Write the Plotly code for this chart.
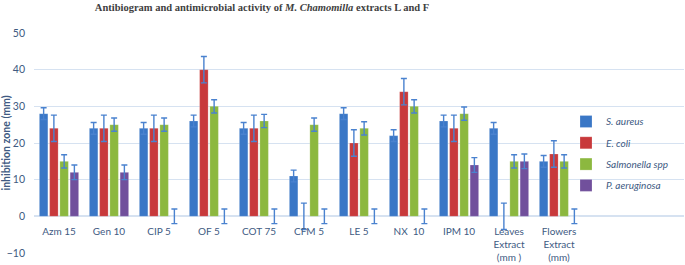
import plotly.graph_objects as go

categories = ["Azm 15", "Gen 10", "CIP 5", "OF 5", "COT 75", "CFM 5", "LE 5", "NX  10",
              "IPM 10", "Leaves<br>Extract<br>(mm )", "Flowers<br>Extract<br>(mm)"]
s_aureus = [28, 24, 24, 26, 24, 11, 28, 22, 26, 24, 15]
e_coli = [24, 24, 24, 40, 24, 0, 20, 34, 24, 0, 17]
salmonella = [15, 25, 25, 30, 26, 25, 24, 30, 28, 15, 15]
p_aeruginosa = [12, 12, 0, 0, 0, 0, 0, 0, 14, 15, 0]
err_s_aureus = 1.6
err_e_coli = 3.6
err_salmonella = 1.8
err_p_aeruginosa = 2.0

series = [
    ("S. aureus", s_aureus, err_s_aureus, "#3a77c6"),
    ("E. coli", e_coli, err_e_coli, "#c8393b"),
    ("Salmonella spp", salmonella, err_salmonella, "#8cb83f"),
    ("P. aeruginosa", p_aeruginosa, err_p_aeruginosa, "#71509c"),
]

txt = "#405a82"
fig = go.Figure()
for name, vals, err, col in series:
    fig.add_trace(go.Bar(
        x=categories, y=vals, name=name, legendgroup=name,
        marker=dict(color=col, line=dict(color="rgba(255,255,255,0.35)", width=0.6)),
        error_y=dict(type="constant", value=err, color="#4a82cf", thickness=1.4, width=3),
    ))

fig.update_layout(
    width=685, height=265,
    margin=dict(l=34, r=1, t=33, b=12, autoexpand=False),
    paper_bgcolor="white", plot_bgcolor="white",
    barmode="group", bargap=0.18, bargroupgap=0.17,
    font=dict(family="Lato", size=10.5, color=txt),
    title=dict(
        text="<b>Antibiogram and antimicrobial activity of <i>M. Chamomilla</i> extracts L and F</b>",
        font=dict(family="Liberation Serif", size=10.5, color="#404040"),
        x=262 / 685, xanchor="center", y=1 - 7 / 265, yanchor="middle",
    ),
    legend=dict(
        x=(566 - 34) / 650, y=(253 - 107) / 220, xanchor="left", yanchor="top",
        font=dict(family="Lato", size=10, color=txt, style="italic"),
        bgcolor="rgba(0,0,0,0)", itemwidth=30, tracegroupgap=2.3,
    ),
    showlegend=True,
)
fig.update_xaxes(
    range=[-0.5, 12.5], anchor="free", position=10 / 60, automargin=False,
    showgrid=False, showline=False, zeroline=False,
    ticks="outside", ticklen=6, tickcolor="rgba(0,0,0,0)",
    tickfont=dict(family="Lato", size=10, color=txt), tickangle=0,
)
fig.update_yaxes(
    range=[-10, 50], dtick=10, showgrid=True, gridcolor="#d6e2f1", gridwidth=1,
    zeroline=True, zerolinecolor="#d6e2f1", zerolinewidth=1.5, showline=False,
    automargin=False, ticklabelstandoff=8,
    tickfont=dict(family="Lato", size=10.5, color=txt),
    title=dict(text="<b>inhibition zone (mm)</b>", font=dict(family="Lato", size=10.5, color=txt), standoff=2),
)
fig.write_html("out.html", config={"displayModeBar": False},
               post_script="document.body.style.margin='0';")
